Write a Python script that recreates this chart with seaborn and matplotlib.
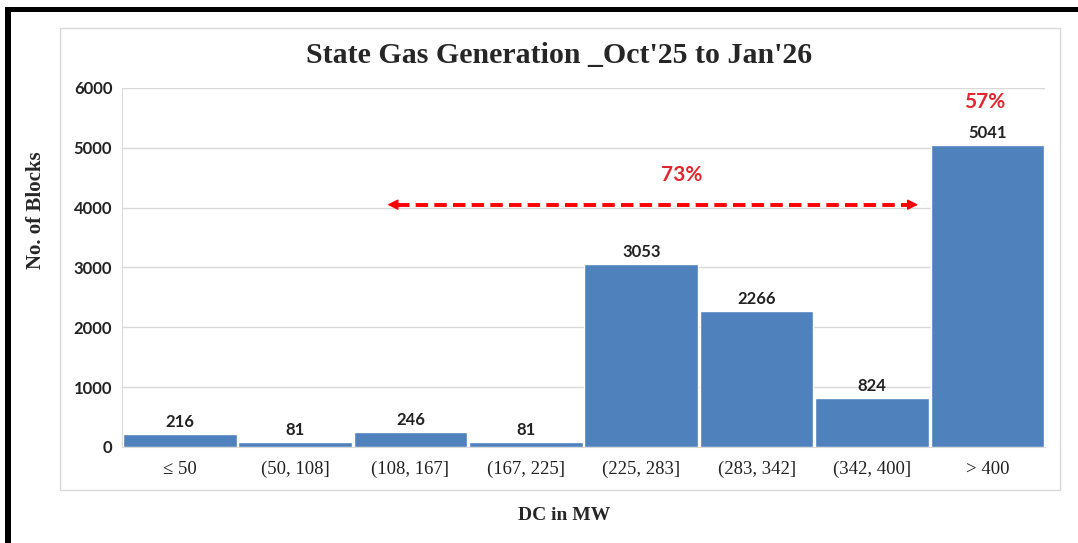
import matplotlib
matplotlib.use("Agg")
import matplotlib.pyplot as plt
import seaborn as sns
import pandas as pd
from matplotlib.patches import Rectangle

# chart data
bins = ["\u2264 50", "(50, 108]", "(108, 167]", "(167, 225]",
        "(225, 283]", "(283, 342]", "(342, 400]", "> 400"]
blocks = [216, 81, 246, 81, 3053, 2266, 824, 5041]
y_ticks = [0, 1000, 2000, 3000, 4000, 5000, 6000]

# annotations
band_label = "73%"
band_start, band_end, band_y = 1.80, 6.40, 4050
band_text_x, band_text_y = 4.35, 4550
top_label = "57%"
top_text_x, top_text_y = 6.98, 5760

df = pd.DataFrame({"DC": bins, "Blocks": blocks})

sns.set_style("white")
serif = ["Liberation Serif", "DejaVu Serif"]
sans = ["Lato", "DejaVu Sans"]

fig = plt.figure(figsize=(10.78, 5.43), dpi=100)
ax = fig.add_axes([0.1132, 0.1768, 0.8562, 0.6612])

sns.barplot(data=df, x="DC", y="Blocks", color="#4F81BD", saturation=1,
            width=0.985, ax=ax, zorder=3)

ax.set_ylim(0, 6000)
ax.set_xlim(-0.5, len(bins) - 0.5)
ax.set_yticks(y_ticks)
ax.set_yticklabels([str(t) for t in y_ticks], fontfamily=sans,
                   fontweight="bold", fontsize=12, color="#222222")
ax.set_xticks(range(len(bins)))
ax.set_xticklabels(bins, fontfamily=serif, fontsize=13.5, color="#222222")
ax.tick_params(axis="y", length=0, pad=7)
ax.tick_params(axis="x", length=0, pad=10)
ax.grid(axis="y", color="#D9D9D9", linewidth=1, zorder=0)
for s in ["top", "right"]:
    ax.spines[s].set_visible(False)
ax.spines["left"].set_color("#D9D9D9")
ax.spines["bottom"].set_color("#D9D9D9")

# value labels
for i, v in enumerate(blocks):
    ax.text(i, v + 70, str(v), ha="center", va="bottom", fontfamily=sans,
            fontweight="bold", fontsize=12, color="#222222", zorder=4)

ax.set_xlabel("")
ax.set_ylabel("")
fig.text(0.523, 0.05, "DC in MW", ha="center", va="center", fontfamily=serif,
         fontweight="bold", fontsize=14)
fig.text(0.033, 0.613, "No. of Blocks", ha="center", va="center", rotation=90,
         fontfamily=serif, fontweight="bold", fontsize=15)
fig.text(0.519, 0.898, "State Gas Generation _Oct'25 to Jan'26", ha="center",
         va="center", fontfamily=serif, fontweight="bold", fontsize=21.5)

# red dashed double arrow: dashed shaft plus solid heads
ax.plot([band_start + 0.08, band_end - 0.08], [band_y, band_y], color="#FF0000",
        lw=2.8, linestyle=(0, (3.2, 1.6)), solid_capstyle="butt", zorder=5)
for tip, tail in [(band_start, band_start + 0.12), (band_end, band_end - 0.12)]:
    ax.annotate("", xy=(tip, band_y), xytext=(tail, band_y),
                arrowprops=dict(arrowstyle="-|>", color="#FF0000", lw=1,
                                mutation_scale=16, shrinkA=0, shrinkB=0),
                zorder=6)
ax.text(band_text_x, band_text_y, band_label, ha="center", va="center",
        fontfamily=sans, fontweight="bold", fontsize=15, color="#E3262D")
ax.text(top_text_x, top_text_y, top_label, ha="center", va="center",
        fontfamily=sans, fontweight="bold", fontsize=15, color="#E3262D")

# chart area border and black frame
fig.add_artist(Rectangle((60 / 1078, 1 - 490 / 543), 1000 / 1078, 462 / 543,
                         transform=fig.transFigure, fill=False,
                         edgecolor="#D9D9D9", linewidth=1))
fig.add_artist(Rectangle((5 / 1078, 1 - 12 / 543), 1073 / 1078, 5 / 543,
                         transform=fig.transFigure, color="black", lw=0))
fig.add_artist(Rectangle((5 / 1078, 0), 6 / 1078, 1 - 7 / 543,
                         transform=fig.transFigure, color="black", lw=0))

fig.savefig("out.png", dpi=100)
